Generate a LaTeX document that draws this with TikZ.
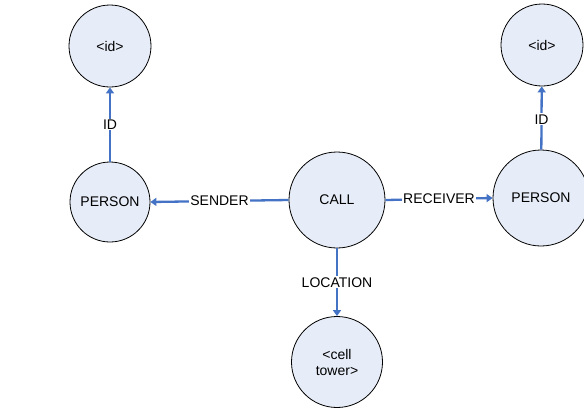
\documentclass[tikz,border=0pt]{standalone}
\usepackage{fontspec}
\setmainfont{Liberation Sans}
\usetikzlibrary{arrows.meta}
\definecolor{edgeblue}{RGB}{68,114,196}
\definecolor{nodefill}{RGB}{231,237,248}
\begin{document}
\begin{tikzpicture}[x=1pt,y=-1pt,
  every node/.style={font=\fontsize{14}{16}\selectfont},
  ent/.style={circle,draw=black,line width=0.8pt,fill=nodefill,inner sep=0pt,align=center},
  rel/.style={draw=edgeblue,line width=2.3pt,-{Triangle[width=8pt,length=6pt]}},
  lbl/.style={fill=white,inner sep=1pt}]
\useasboundingbox (0,0) rectangle (584,413);
\node[ent,minimum size=82pt] (id1) at (110,46) {<id>};
\node[ent,minimum size=80pt] (p1) at (110,202) {PERSON};
\node[ent,minimum size=96pt] (call) at (337,200) {CALL};
\node[ent,minimum size=96pt] (p2) at (541,198) {PERSON};
\node[ent,minimum size=82pt] (id2) at (542,45) {<id>};
\node[ent,minimum size=91pt] (tower) at (337,362) {<cell\\tower>};
\draw[rel] (p1) -- node[lbl] {ID} (id1);
\draw[rel] (call.west) -- node[lbl,pos=0.5] {SENDER} (p1.east);
\draw[rel] (call.east) -- node[lbl,pos=0.5] {RECEIVER} (p2.west);
\draw[rel] (p2) -- node[lbl,pos=0.48] {ID} (id2);
\draw[rel] (call) -- node[lbl,pos=0.5] {LOCATION} (tower);
\end{tikzpicture}
\end{document}
